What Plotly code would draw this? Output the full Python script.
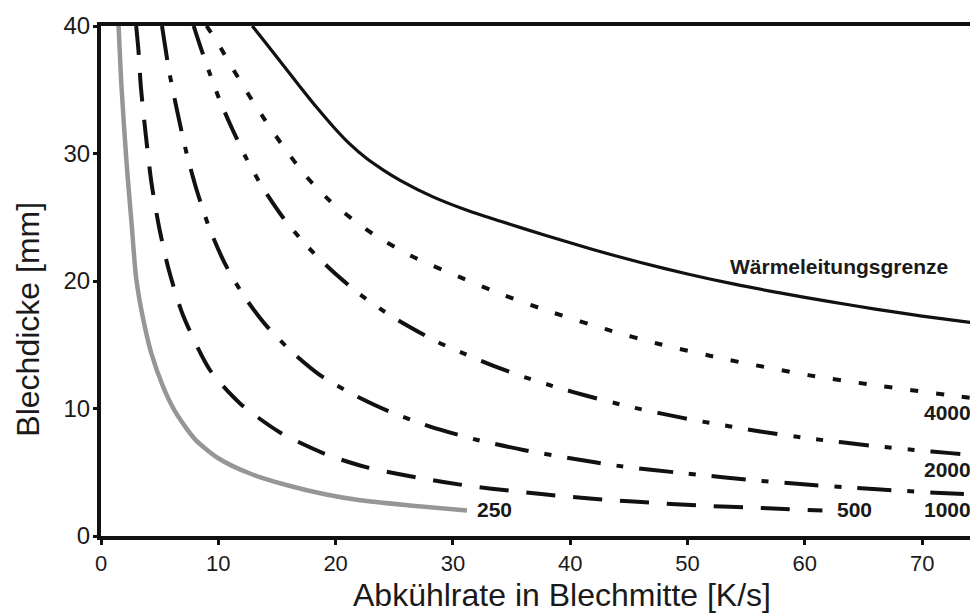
import plotly.graph_objects as go

# ---- data ----
x_tick_vals = [0, 10, 20, 30, 40, 50, 60, 70]
y_tick_vals = [0, 10, 20, 30, 40]

grenze_x = [12.9, 14.1, 15.55, 17.0, 18.4, 19.8, 21.2, 22.65, 24.07, 25.5, 28.3, 31.2, 34.0, 38.0, 42.0, 46.0, 50.0, 54.0, 58.0, 62.0, 66.0, 70.0, 74.5]
grenze_y = [40.0, 38.6, 36.9, 35.2, 33.6, 32.1, 30.75, 29.6, 28.7, 27.9, 26.6, 25.55, 24.7, 23.55, 22.45, 21.45, 20.55, 19.75, 19.05, 18.4, 17.8, 17.25, 16.7]

r4000_x = [9.0, 10.0, 11.0, 12.0, 13.0, 14.0, 15.5, 17.5, 19.5, 21.5, 23.5, 26.6, 30.6, 34.3, 38.6, 43.1, 47.4, 53.6, 60.4, 65.8, 72.7, 74.5]
r4000_y = [40.0, 38.6, 37.0, 35.5, 34.0, 32.6, 30.6, 28.2, 26.3, 24.8, 23.5, 21.9, 20.3, 18.9, 17.5, 16.2, 15.1, 13.8, 12.6, 11.85, 11.0, 10.8]

r2000_x = [7.9, 8.5, 9.3, 10.2, 11.2, 12.4, 13.8, 15.5, 17.5, 19.7, 22.0, 25.0, 28.5, 31.2, 33.3, 36.3, 39.1, 41.4, 44.8, 47.8, 50.8, 56.2, 60.4, 66.0, 69.3, 72.4, 74.5]
r2000_y = [40.0, 38.3, 36.2, 34.0, 31.9, 29.6, 27.3, 25.0, 22.8, 20.8, 19.0, 17.1, 15.3, 14.2, 13.4, 12.4, 11.6, 11.0, 10.2, 9.6, 9.05, 8.2, 7.65, 7.05, 6.75, 6.5, 6.35]

r1000_x = [5.2, 5.8, 6.5, 7.3, 8.2, 9.3, 10.6, 12.2, 14.0, 16.2, 18.7, 21.5, 24.5, 28.0, 32.0, 36.0, 40.0, 44.1, 49.9, 56.2, 60.4, 64.4, 68.0, 71.1, 74.5]
r1000_y = [40.0, 36.5, 33.3, 30.0, 27.0, 24.0, 21.3, 18.8, 16.6, 14.5, 12.6, 11.1, 9.8, 8.6, 7.55, 6.75, 6.1, 5.5, 4.9, 4.33, 4.02, 3.76, 3.56, 3.4, 3.25]

r500_x = [3.0, 3.2, 3.4, 3.8, 4.3, 5.0, 5.8, 7.0, 9.3, 11.85, 15.3, 19.2, 22.6, 27.2, 31.2, 35.4, 39.7, 43.7, 47.1, 50.8, 56.2, 61.5]
r500_y = [40.0, 38.0, 35.2, 31.6, 27.7, 24.0, 20.8, 17.3, 13.0, 10.4, 8.1, 6.4, 5.4, 4.55, 3.95, 3.5, 3.1, 2.8, 2.6, 2.4, 2.2, 2.0]

r250_x = [1.5, 1.75, 2.2, 2.6, 3.0, 3.6, 4.3, 5.3, 6.3, 8.0, 10.0, 12.7, 15.8, 19.2, 22.1, 26.3, 31.2]
r250_y = [40.0, 35.2, 29.0, 24.6, 20.2, 17.0, 14.3, 11.7, 9.8, 7.6, 6.1, 4.9, 4.0, 3.25, 2.8, 2.4, 2.0]

labels_text = ["Wärmeleitungsgrenze", "4000", "2000", "1000", "500", "250"]
labels_x = [53.45, 70.0, 70.0, 70.0, 62.6, 31.9]
labels_y = [21.1, 9.65, 5.25, 2.04, 2.04, 2.04]

FONT = "Liberation Sans, Arial, sans-serif"

fig = go.Figure()

def add(xs, ys, color, width, dash):
    fig.add_trace(go.Scatter(
        x=xs, y=ys, mode="lines",
        line=dict(color=color, width=width, dash=dash, shape="spline", smoothing=0.7),
        showlegend=False, hoverinfo="skip"))

add(grenze_x, grenze_y, "#111111", 3.2, "solid")
add(r4000_x, r4000_y, "#111111", 4, "8px,18px")
add(r2000_x, r2000_y, "#111111", 4, "30px,16px,7px,16px,7px,16px")
add(r1000_x, r1000_y, "#111111", 4, "34px,16px,7px,16px")
add(r500_x, r500_y, "#111111", 4, "29px,18px")
add(r250_x, r250_y, "#969696", 4.5, "solid")

for t, lx, ly in zip(labels_text, labels_x, labels_y):
    fig.add_annotation(x=lx, y=ly, text="<b>%s</b>" % t, showarrow=False,
                       xanchor="left", yanchor="middle",
                       font=dict(family=FONT, size=21, color="#1a1a1a"))

# axis titles
fig.add_annotation(xref="paper", yref="paper", x=0.531, y=-0.116,
                   text="Abkühlrate in Blechmitte [K/s]", showarrow=False,
                   xanchor="center", yanchor="middle",
                   font=dict(family=FONT, size=32, color="#1a1a1a"))
fig.add_annotation(xref="paper", yref="paper", x=-0.085, y=0.4245,
                   text="Blechdicke [mm]", showarrow=False, textangle=-90,
                   xanchor="center", yanchor="middle",
                   font=dict(family=FONT, size=32, color="#1a1a1a"))

fig.update_layout(
    width=970, height=615,
    margin=dict(l=101, r=0, t=26, b=79),
    paper_bgcolor="white", plot_bgcolor="white",
    font=dict(family=FONT, color="#1a1a1a"),
    xaxis=dict(range=[0, 74.08], tickvals=x_tick_vals, showgrid=False, zeroline=False,
               showline=True, linecolor="#111111", linewidth=4, mirror=True,
               ticks="outside", ticklen=5, tickwidth=3, tickcolor="#111111",
               tickfont=dict(family=FONT, size=22, color="#1a1a1a")),
    yaxis=dict(range=[0, 40], tickvals=y_tick_vals, showgrid=False, zeroline=False,
               showline=True, linecolor="#111111", linewidth=4, mirror=False,
               ticks="outside", ticklen=4, tickwidth=3, tickcolor="#111111",
               ticklabelstandoff=-2,
               tickfont=dict(family=FONT, size=24, color="#1a1a1a")),
)

fig.write_html("out.html")
